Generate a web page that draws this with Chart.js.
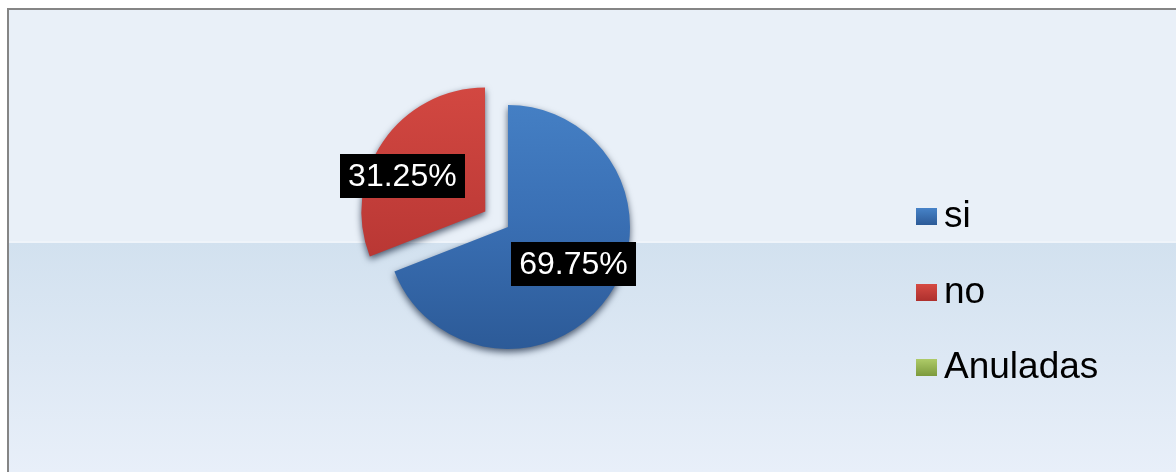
<!DOCTYPE html>
<html lang="es">
<head>
<meta charset="UTF-8">
<title>Votos</title>
<script src="https://cdn.jsdelivr.net/npm/chart.js"></script>
<style>
    body { margin: 0; background: #fff; }
    .wrap { position: relative; width: 1176px; height: 472px; }
    #votos { position: absolute; left: 0; top: 0; }
    .leyenda {
        position: absolute; left: 916px; top: 196px;
        font-family: "Liberation Sans", Arial, sans-serif; font-size: 37px; color: #000;
    }
    .leyenda .item { height: 75.5px; line-height: 37px; white-space: nowrap; }
    .leyenda .caja {
        display: inline-block; width: 21px; height: 17px; margin-right: 7px;
        vertical-align: 2px;
    }
</style>
</head>
<body>
<div class="wrap">
    <canvas id="votos" width="1176" height="472"></canvas>
    <div class="leyenda" id="leyenda"></div>
</div>

<script>
    const categorias = ['si', 'no', 'Anuladas'];
    const porcentajes = [69.75, 31.25, 0];
    const colores = ['#3a70b5', '#c23d39', '#9bbb59'];

    // degradados de cada porción (arriba -> abajo)
    const tonos = [
        ['#4783c8', '#3a70b5', '#2c5a97'],
        ['#d64a43', '#c23d39', '#ad302d'],
        ['#aecb68', '#9bbb59', '#7c9a3d']
    ];

    function relleno(ctx) {
        const chart = ctx.chart;
        const area = chart.chartArea;
        const i = ctx.dataIndex;
        if (!area) return colores[i];
        const cy = (area.top + area.bottom) / 2;
        const g = chart.ctx.createLinearGradient(0, cy - 150, 0, cy + 125);
        g.addColorStop(0, tonos[i][0]);
        g.addColorStop(0.5, tonos[i][1]);
        g.addColorStop(1, tonos[i][2]);
        return g;
    }

    // fondo del gráfico: dos franjas y marco gris
    const fondo = {
        id: 'fondo',
        beforeDraw(chart) {
            const c = chart.ctx;
            const w = chart.width, h = chart.height;
            c.save();
            c.fillStyle = '#ffffff';
            c.fillRect(0, 0, w, h);
            c.fillStyle = '#e9f0f8';
            c.fillRect(8, 9, w - 8, 234);
            const g = c.createLinearGradient(0, 243, 0, h);
            g.addColorStop(0, '#d2e1ef');
            g.addColorStop(1, '#e8eff9');
            c.fillStyle = g;
            c.fillRect(8, 243, w - 8, h - 243);
            c.fillStyle = 'rgba(255,255,255,0.3)';
            c.fillRect(8, 241, w - 8, 2);
            c.fillStyle = '#858585';
            c.fillRect(7, 8, w - 7, 2);
            c.fillRect(7, 8, 2, h - 8);
            c.restore();
        }
    };

    const sombra = {
        id: 'sombra',
        beforeDatasetsDraw(chart) {
            const c = chart.ctx;
            c.save();
            c.shadowColor = 'rgba(10,25,50,0.7)';
            c.shadowBlur = 7;
            c.shadowOffsetX = 0;
            c.shadowOffsetY = 3;
        },
        afterDatasetsDraw(chart) {
            chart.ctx.restore();
        }
    };

    // etiquetas negras con el porcentaje
    const etiquetas = {
        id: 'etiquetas',
        afterDatasetsDraw(chart, args, opts) {
            const c = chart.ctx;
            const meta = chart.getDatasetMeta(0);
            c.save();
            c.font = '32px "Liberation Sans", Arial, sans-serif';
            c.textAlign = 'center';
            c.textBaseline = 'middle';
            meta.data.forEach((arc, i) => {
                const v = porcentajes[i];
                if (!v) return;
                const p = arc.getProps(['x', 'y', 'startAngle', 'endAngle', 'outerRadius']);
                const mid = (p.startAngle + p.endAngle) / 2;
                const off = (arc.options.offset || 0) / 4;
                const cx = p.x + Math.cos(mid) * off;
                const cy = p.y + Math.sin(mid) * off;
                const lug = opts.lugar[i];
                const ang = mid + lug.giro * Math.PI / 180;
                const x = cx + Math.cos(ang) * p.outerRadius * lug.f;
                const y = cy + Math.sin(ang) * p.outerRadius * lug.f;
                const txt = v.toFixed(2) + '%';
                const tw = c.measureText(txt).width;
                c.fillStyle = '#000';
                c.fillRect(Math.round(x - tw / 2 - 8), Math.round(y - 22), Math.round(tw + 16), 44);
                c.fillStyle = '#fff';
                c.fillText(txt, x, y + 1);
            });
            c.restore();
        }
    };

    new Chart(document.getElementById('votos'), {
        type: 'pie',
        data: {
            labels: categorias,
            datasets: [{
                data: porcentajes,
                backgroundColor: relleno,
                borderWidth: 0,
                offset: [0, 110, 0]
            }]
        },
        options: {
            responsive: false,
            animation: false,
            events: [],
            radius: 122,
            layout: { padding: { left: 0, right: 160, top: 0, bottom: 18 } },
            plugins: {
                legend: { display: false },
                tooltip: { enabled: false },
                etiquetas: {
                    lugar: [{ f: 0.615, giro: -5 }, { f: 0.74, giro: -11 }, { f: 0.6, giro: 0 }]
                }
            }
        },
        plugins: [fondo, sombra, etiquetas]
    });

    // leyenda
    const ley = document.getElementById('leyenda');
    categorias.forEach((nombre, i) => {
        const item = document.createElement('div');
        item.className = 'item';
        const caja = document.createElement('span');
        caja.className = 'caja';
        caja.style.background = 'linear-gradient(' + tonos[i][0] + ', ' + tonos[i][2] + ')';
        item.appendChild(caja);
        item.appendChild(document.createTextNode(nombre));
        ley.appendChild(item);
    });
</script>
</body>
</html>
